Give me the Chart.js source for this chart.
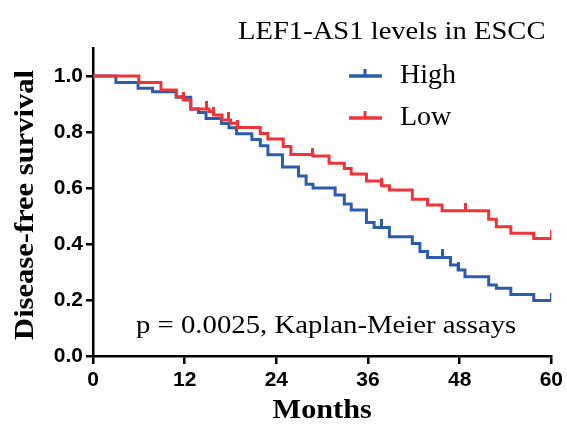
<!DOCTYPE html>
<html>
<head>
<meta charset="utf-8">
<script src="https://cdn.jsdelivr.net/npm/chart.js@4/dist/chart.umd.min.js"></script>
<style>
html,body{margin:0;padding:0;background:#fff;}
#wrap{width:567px;height:431px;position:relative;}
</style>
</head>
<body>
<div id="wrap"><canvas id="c" width="567" height="431"></canvas></div>
<script>
// ---- data ----
const highMonths = [0, 3.0, 5.9, 7.8, 10.9, 12.8, 13.8, 14.8, 16.8, 17.8, 18.8, 20.8, 21.9, 22.9, 24.8, 26.9, 27.9, 28.8, 31.7, 32.9, 33.8, 35.8, 36.8, 38.8, 41.8, 42.8, 43.8, 46.8, 47.8, 48.7, 51.8, 52.8, 54.7, 57.7, 60];
const highSurv   = [1.0, 0.977, 0.956, 0.944, 0.924, 0.882, 0.870, 0.848, 0.830, 0.815, 0.794, 0.773, 0.751, 0.719, 0.675, 0.643, 0.613, 0.600, 0.575, 0.543, 0.521, 0.477, 0.459, 0.426, 0.402, 0.373, 0.352, 0.325, 0.307, 0.283, 0.254, 0.242, 0.220, 0.198, 0.198];
const lowMonths  = [0, 6.0, 8.9, 10.9, 11.8, 12.8, 15.2, 15.8, 16.9, 18.0, 18.9, 21.9, 22.9, 24.9, 25.9, 28.8, 30.9, 32.9, 33.8, 35.8, 37.8, 38.8, 41.8, 43.8, 45.7, 51.8, 52.8, 54.7, 57.7, 60];
const lowSurv    = [1.0, 0.977, 0.950, 0.926, 0.914, 0.882, 0.873, 0.861, 0.843, 0.831, 0.816, 0.795, 0.775, 0.748, 0.720, 0.714, 0.688, 0.670, 0.650, 0.625, 0.608, 0.593, 0.560, 0.539, 0.519, 0.488, 0.462, 0.438, 0.420, 0.420];
const highCensor = [37.8, 45.7, 47.8, 60];
const lowCensor  = [11.9, 14.8, 15.8, 17.8, 18.9, 28.8, 37.8, 48.7, 60];
const xTicks = [0, 12, 24, 36, 48, 60];
const yTicks = [0.0, 0.2, 0.4, 0.6, 0.8, 1.0];
const seriesNames = ['High', 'Low'];
const legendTitle = 'LEF1-AS1 levels in ESCC';
const pText = 'p = 0.0025, Kaplan-Meier assays';
const xTitle = 'Months';
const yTitle = 'Disease-free survival';

const BLUE = '#2b5cae';
const RED = '#f03337';
const SERIF = '"Liberation Serif", "Times New Roman", Times, serif';
const SANS = '"Liberation Sans", Arial, Helvetica, sans-serif';

function toPts(t, s){ return t.map((x,i)=>({x:x, y:s[i]})); }
function survAt(t, s, time){ let v = s[0]; for(let i=0;i<t.length;i++){ if(t[i] <= time) v = s[i]; } return v; }
function censorPts(ct, t, s){ return ct.map(x=>({x:x, y:survAt(t,s,x)})); }
function tickImg(color){
  const c = document.createElement('canvas');
  c.width = 3; c.height = 16;
  const g = c.getContext('2d');
  g.fillStyle = color; g.fillRect(0,0,3,8);
  return c;
}

const textPlugin = {
  id: 'texts',
  afterDraw(chart){
    const ctx = chart.ctx;
    function txt(s, x, y, font, align, sx, rot){
      ctx.save();
      ctx.translate(x, y);
      if (rot) ctx.rotate(rot);
      ctx.scale(sx || 1, 1);
      ctx.font = font;
      ctx.fillStyle = '#000';
      ctx.textAlign = align || 'left';
      ctx.textBaseline = 'middle';
      ctx.fillText(s, 0, 0);
      ctx.restore();
    }
    txt(legendTitle, 238, 32, '26px ' + SERIF, 'left', 1.1);
    const items = [{c: BLUE, y: 76}, {c: RED, y: 118}];
    items.forEach((it, i) => {
      ctx.save();
      ctx.strokeStyle = it.c; ctx.lineWidth = 3.5;
      ctx.beginPath(); ctx.moveTo(349, it.y); ctx.lineTo(382, it.y); ctx.stroke();
      ctx.lineWidth = 3;
      ctx.beginPath(); ctx.moveTo(365, it.y); ctx.lineTo(365, it.y - 7); ctx.stroke();
      ctx.restore();
      txt(seriesNames[i], 400, it.y, '28px ' + SERIF, 'left', 1);
    });
    txt(pText, 136, 326, '25px ' + SERIF, 'left', 1.15);
    const a = chart.chartArea;
    txt(xTitle, (a.left + a.right)/2, 411, 'bold 28px ' + SERIF, 'center', 1.08);
    txt(yTitle, 26, 205, 'bold 28px ' + SERIF, 'center', 1.09, -Math.PI/2);
  }
};

function build(){
  const tickFont = {family: SANS, size: 21, weight: 'bold'};
  new Chart(document.getElementById('c'), {
    type: 'line',
    data: {
      datasets: [
        {label: seriesNames[0], data: toPts(highMonths, highSurv), stepped: true, borderColor: BLUE, borderWidth: 3, pointRadius: 0, fill: false, order: 2},
        {label: seriesNames[1], data: toPts(lowMonths, lowSurv), stepped: true, borderColor: RED, borderWidth: 3, pointRadius: 0, fill: false, order: 1},
        {label: 'hc', data: censorPts(highCensor, highMonths, highSurv), showLine: false, pointStyle: tickImg(BLUE), pointRadius: 8, order: 2},
        {label: 'lc', data: censorPts(lowCensor, lowMonths, lowSurv), showLine: false, pointStyle: tickImg(RED), pointRadius: 8, order: 1}
      ]
    },
    options: {
      responsive: false,
      animation: false,
      events: [],
      layout: {padding: {top: 48, right: 12, left: 0, bottom: 0}},
      plugins: {legend: {display: false}, tooltip: {enabled: false}},
      scales: {
        x: {
          type: 'linear', min: 0, max: 60,
          afterBuildTicks: s => { s.ticks = xTicks.map(v => ({value: v})); },
          afterFit: s => { s.height = 75; },
          ticks: {font: tickFont, color: '#000', padding: 4, maxRotation: 0},
          grid: {drawOnChartArea: false, drawTicks: true, tickLength: 8, color: '#000', lineWidth: 2.5},
          border: {display: true, color: '#000', width: 2.5}
        },
        y: {
          type: 'linear', min: 0, max: 1.1,
          afterBuildTicks: s => { s.ticks = yTicks.map(v => ({value: v})); },
          afterFit: s => { s.width = 93; },
          ticks: {font: tickFont, color: '#000', padding: 3, callback: v => Number(v).toFixed(1)},
          grid: {drawOnChartArea: false, drawTicks: true, tickLength: 7, color: '#000', lineWidth: 2.5},
          border: {display: true, color: '#000', width: 2.5}
        }
      }
    },
    plugins: [textPlugin]
  });
}

Promise.all([
  document.fonts.load('26px "Liberation Serif"'),
  document.fonts.load('bold 28px "Liberation Serif"'),
  document.fonts.load('bold 20px "Liberation Sans"')
]).then(build, build);
</script>
</body>
</html>
